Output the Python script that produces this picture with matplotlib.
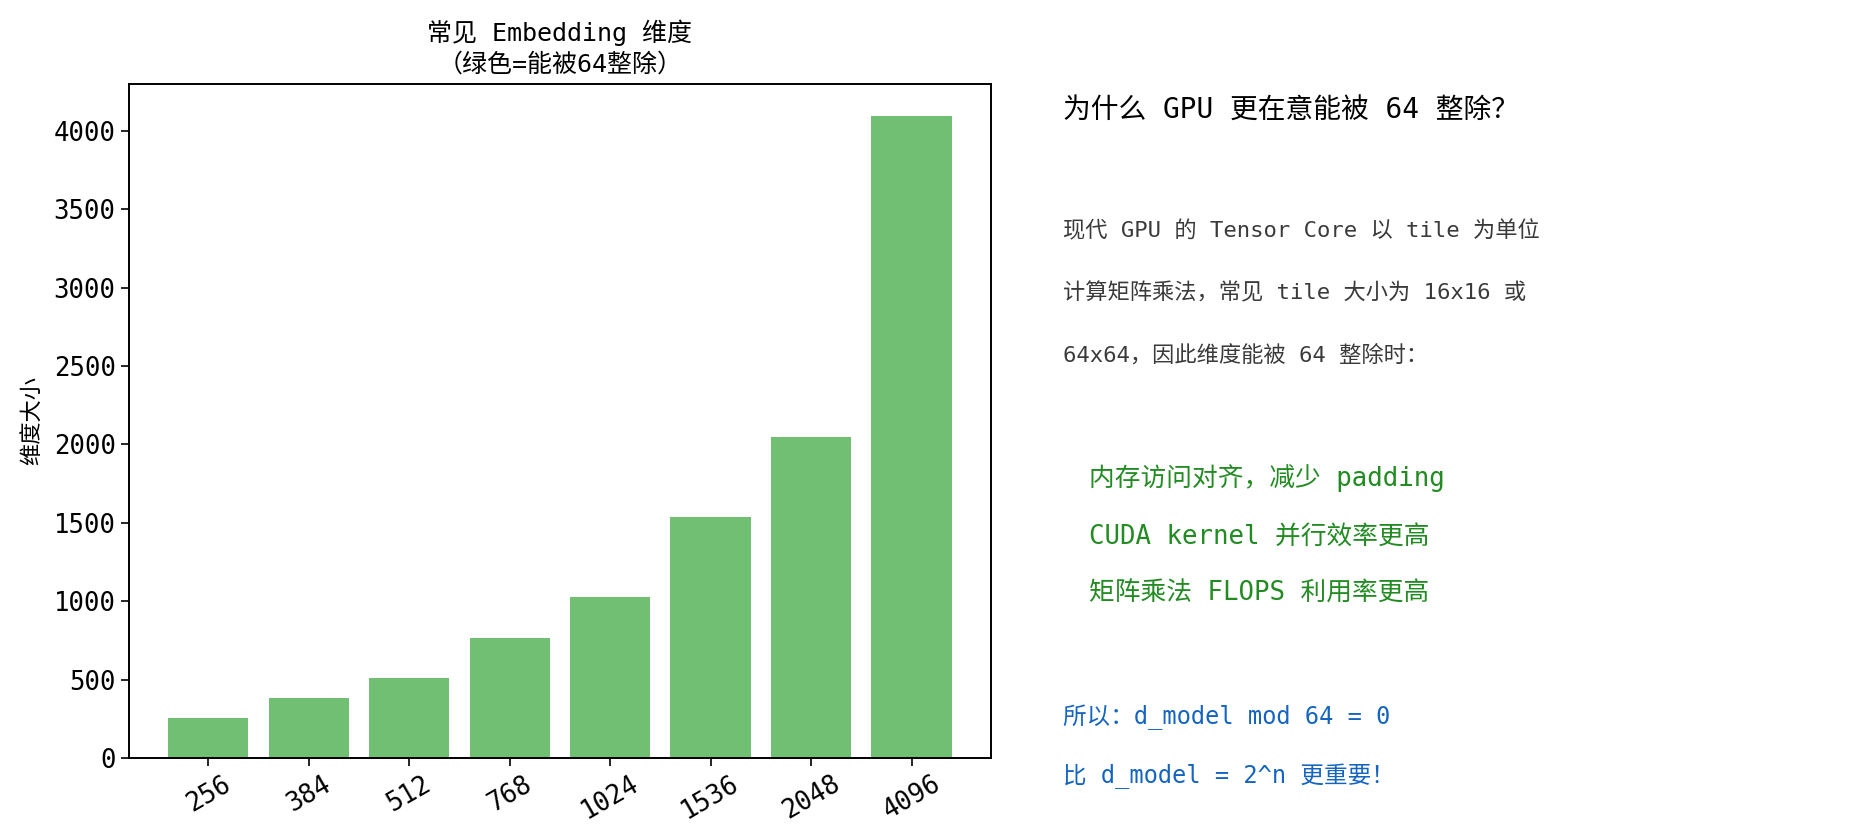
import numpy as np
import matplotlib
matplotlib.use("Agg")
import matplotlib.pyplot as plt

# monospace latin + CJK fallback, close to the reference's half-width look
plt.rcParams['font.family'] = ['DejaVu Sans Mono', 'Noto Sans CJK SC']
plt.rcParams['axes.unicode_minus'] = False

# data
dims = ['256', '384', '512', '768', '1024', '1536', '2048', '4096']
values = [256, 384, 512, 768, 1024, 1536, 2048, 4096]

heading = '为什么 GPU 更在意能被 64 整除？'
body_lines = ['现代 GPU 的 Tensor Core 以 tile 为单位',
              '计算矩阵乘法，常见 tile 大小为 16x16 或',
              '64x64，因此维度能被 64 整除时：']
green_lines = ['内存访问对齐，减少 padding',
               'CUDA kernel 并行效率更高',
               '矩阵乘法 FLOPS 利用率更高']
blue_lines = ['所以：d_model mod 64 = 0',
              '比 d_model = 2^n 更重要！']

fig = plt.figure(figsize=(18.74, 8.39), dpi=100)
ax = fig.add_axes([0.0688, 0.0966, 0.4600, 0.8034])

x = np.arange(len(dims))
ax.bar(x, values, width=0.8, color='#4CAF50', alpha=0.8)
ax.set_xticks(x)
ax.set_xticklabels(dims, rotation=30, fontsize=18.5)
ax.tick_params(axis='y', labelsize=18.5)
ax.tick_params(length=6, width=1.2)
ax.set_ylabel('维度大小', fontsize=16, labelpad=8)
ax.set_title('常见 Embedding 维度\n（绿色=能被64整除）', fontsize=18, linespacing=1.35, pad=9)
for s in ax.spines.values():
    s.set_linewidth(1.4)

# right side explanation
fig.text(0.567, 0.869, heading, fontsize=20, va='center', ha='left', color='black')
for yy, t in zip([0.725, 0.651, 0.577], body_lines):
    fig.text(0.567, yy, t, fontsize=16, va='center', ha='left', color='#3a3a3a')
for yy, t in zip([0.430, 0.360, 0.292], green_lines):
    fig.text(0.581, yy, t, fontsize=18.5, va='center', ha='left', color='#228B22')
for yy, t in zip([0.145, 0.075], blue_lines):
    fig.text(0.567, yy, t, fontsize=17, va='center', ha='left', color='#1565C0')

fig.savefig('out.png', dpi=100)
